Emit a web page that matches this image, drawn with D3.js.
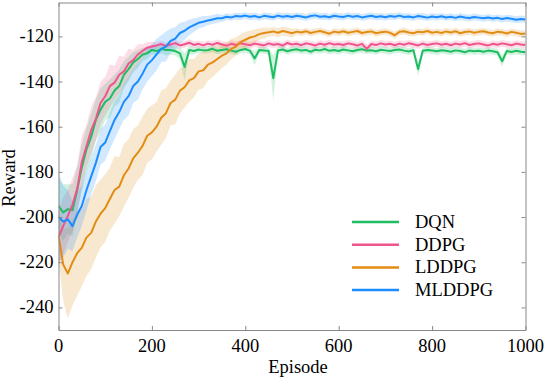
<!DOCTYPE html>
<html>
<head>
<meta charset="utf-8">
<script src="https://cdn.jsdelivr.net/npm/d3@7"></script>
</head>
<body style="margin:0">
<script>
// episodes sampled every 10
const episodes = d3.range(0, 1001, 10);
const seriesNames = ["DQN", "DDPG", "LDDPG", "MLDDPG"];
const yTicks = [-240, -220, -200, -180, -160, -140, -120];
const xTicks = [0, 200, 400, 600, 800, 1000];

const dqnMean = [
  -195, -198, -196.5, -197, -188, -178, -170, -164.5, -157, -152.5, -149,
  -147.5, -144, -142, -137, -134.5, -131.5, -130, -128, -127.5, -126,
  -126.5, -125.5, -126, -126, -126.5, -127.5, -133.5, -126, -126.5, -125.8,
  -126.2, -126, -125.5, -126.4, -126, -125.7, -126.3, -126.8, -126, -125.6,
  -126.4, -129.8, -126, -126.2, -126.5, -138.5, -126.2, -125.8, -126.6, -126,
  -125.7, -126.3, -126, -126.8, -125.9, -126.2, -125.6, -126.4, -126, -126.5,
  -125.8, -126.2, -126.6, -126, -125.7, -126.3, -126.1, -126.6, -125.9, -126.2,
  -126.5, -126, -125.8, -126.3, -126.7, -126.1, -134.5, -126.4, -126, -126.3,
  -126.6, -126.1, -126.4, -126.8, -126.2, -126.5, -127, -126.3, -126.6, -126.4,
  -126.8, -126.3, -126.6, -127, -131, -126.5, -126.9, -126.4, -126.8, -127
];
const dqnSpread = [
  12, 12.5, 11, 11.5, 10, 10.5, 9.5, 10, 9, 9.5, 8,
  8.5, 7, 7.5, 6, 5.5, 4.5, 4, 3, 2.5, 2,
  2, 2, 2.5, 2, 2, 2.5, 6, 2, 1.5, 1.5,
  1.5, 1.5, 1.5, 1.5, 1.5, 1.5, 1.5, 1.5, 1.5, 1.5,
  1.5, 3, 1.5, 1.5, 1.5, 10, 1.5, 1.5, 1.5, 1.5,
  1.5, 1.5, 1.5, 1.5, 1.5, 1.5, 1.5, 1.5, 1.5, 1.5,
  1.5, 1.5, 1.5, 1.5, 1.5, 1.5, 1.5, 1.5, 1.5, 1.5,
  1.5, 1.5, 1.5, 1.5, 1.5, 1.5, 3, 1.5, 1.5, 1.5,
  1.5, 1.5, 1.5, 1.5, 1.5, 1.5, 1.5, 1.5, 1.5, 1.5,
  1.5, 1.5, 1.5, 1.5, 2.5, 1.5, 1.5, 1.5, 1.5, 1.5
];

const ddpgMean = [
  -209, -204, -199.5, -194.5, -187.5, -175.5, -168.5, -161.5, -156.5, -149.5, -146.5,
  -142, -140.5, -137, -135.5, -132, -130.5, -128, -126.5, -125, -124.5,
  -124, -123.4, -124.2, -123.6, -123, -124, -123.5, -122.8, -123.8, -123.3,
  -124, -123.2, -123.7, -122.9, -123.6, -124.1, -123.3, -123.8, -123, -123.5,
  -123.9, -123.2, -123.6, -124, -123.1, -123.7, -123.4, -124.1, -122.9, -123.6,
  -123.3, -123.9, -123.1, -123.5, -124, -123.2, -123.7, -123, -123.6, -123.4,
  -123.8, -123.1, -123.5, -124, -123.3, -125.5, -123.4, -123.8, -123.1, -123.6,
  -123.3, -123.9, -123.2, -123.7, -123, -123.5, -124, -123.2, -123.8, -123.4,
  -123.1, -123.7, -123.3, -123.9, -123.2, -123.6, -123, -123.8, -123.4, -123.1,
  -123.6, -124, -123.3, -123.7, -123.1, -123.5, -123.9, -123.2, -123.6, -123.8
];
const ddpgSpread = [
  12, 12.5, 11.5, 12, 10.5, 11.5, 9.5, 10.5, 9.5, 9.5, 8.5,
  9.5, 7.5, 8.5, 6.5, 6.5, 4.5, 4.5, 3, 2.5, 2,
  1.5, 1.5, 1.5, 1.5, 1.5, 1.5, 1.5, 1.5, 1.5, 1.5,
  1.5, 1.5, 1.5, 1.5, 1.5, 1.5, 1.5, 1.5, 1.5, 1.5,
  1.5, 1.5, 1.5, 1.5, 1.5, 1.5, 1.5, 1.5, 1.5, 1.5,
  1.5, 1.5, 1.5, 1.5, 1.5, 1.5, 1.5, 1.5, 1.5, 1.5,
  1.5, 1.5, 1.5, 1.5, 1.5, 2, 1.5, 1.5, 1.5, 1.5,
  1.5, 1.5, 1.5, 1.5, 1.5, 1.5, 1.5, 1.5, 1.5, 1.5,
  1.5, 1.5, 1.5, 1.5, 1.5, 1.5, 1.5, 1.5, 1.5, 1.5,
  1.5, 1.5, 1.5, 1.5, 1.5, 1.5, 1.5, 1.5, 1.5, 1.5
];

const lddpgMean = [
  -208, -221, -225, -220, -216, -213.5, -209, -207, -202, -198.5, -196,
  -192, -188, -186.5, -181.5, -178.5, -174, -171.5, -168.5, -164, -162.5,
  -160, -156, -154, -149.5, -148, -144, -142.5, -139.5, -138.5, -135.5,
  -135, -132.5, -131.5, -130, -128.5, -127.5, -125.5, -124.5, -122.5, -121.5,
  -120.5, -120, -119, -118.5, -118.2, -117.8, -118.4, -117.6, -118.1, -118.6,
  -117.9, -118.3, -117.7, -118.5, -118, -117.6, -118.2, -118.8, -117.9, -118.3,
  -117.7, -118.4, -118, -117.6, -118.5, -118.1, -117.8, -118.6, -118.2, -117.9,
  -118.4, -119.5, -118, -117.7, -118.3, -118.6, -117.9, -118.2, -117.6, -118.4,
  -118, -118.5, -117.8, -118.3, -117.7, -118.6, -118.1, -117.8, -118.4, -118,
  -117.7, -118.3, -118.6, -117.9, -118.2, -118.7, -118, -118.4, -118.9, -118.7
];
const lddpgSpread = [
  10, 16, 20, 19, 19, 17, 17, 16, 16, 15, 15,
  14, 15, 13, 14, 13, 13, 12, 13, 12, 12,
  11, 12, 11, 10, 11, 10, 9, 9.5, 8.5, 8,
  8, 7, 6.5, 6, 5.5, 5, 4.5, 4, 3.5, 3.5,
  3, 3, 2.5, 2.5, 2, 2, 2, 2, 2, 2,
  1.5, 1.5, 1.5, 1.5, 1.5, 1.5, 1.5, 1.5, 1.5, 1.5,
  1.5, 1.5, 1.5, 1.5, 1.5, 1.5, 1.5, 1.5, 1.5, 1.5,
  1.5, 1.5, 1.5, 1.5, 1.5, 1.5, 1.5, 1.5, 1.5, 1.5,
  1.5, 1.5, 1.5, 1.5, 1.5, 1.5, 1.5, 1.5, 1.5, 1.5,
  1.5, 1.5, 1.5, 1.5, 1.5, 1.5, 1.5, 1.5, 1.5, 1.5
];

const mlddpgMean = [
  -200, -202, -201, -204, -199, -195, -188, -182, -176, -169, -167,
  -162, -157, -153.5, -149, -146.5, -142, -140, -136.5, -132.5, -130.5,
  -128, -125.5, -124.5, -122, -121, -118.5, -117.5, -116, -115, -114,
  -113.5, -113, -112.5, -112, -112, -111.3, -111.6, -111, -111.2, -110.8,
  -111.3, -111, -111.6, -110.9, -111.2, -111.5, -110.8, -111.3, -111, -111.4,
  -110.9, -111.2, -111.6, -111, -110.7, -111.3, -111.1, -111.5, -110.9, -111.2,
  -111.4, -110.8, -111.3, -111, -111.6, -111.2, -110.9, -111.4, -111.1, -111.5,
  -111, -111.3, -110.8, -111.4, -111.2, -111.6, -111, -111.3, -111.7, -111.2,
  -111.5, -111.1, -111.6, -111.3, -111.8, -111.2, -111.6, -111.9, -111.4, -111.7,
  -112, -111.6, -112.1, -111.8, -112.3, -111.9, -112.2, -112.6, -112.3, -112.5
];
const mlddpgSpread = [
  20, 16, 13, 11, 10, 9, 9, 8, 8, 8, 8,
  8, 8.5, 7.5, 8, 8.5, 7.5, 8, 7, 7.5, 7,
  7, 6, 6.5, 5.5, 5, 4.5, 4, 3.5, 3, 2.5,
  2.5, 2, 2, 2, 1.5, 1.5, 1.5, 1.5, 1.5, 1.5,
  1.5, 1.5, 1.5, 1.5, 1.5, 1.5, 1.5, 1.5, 1.5, 1.5,
  1.5, 1.5, 1.5, 1.5, 1.5, 1.5, 1.5, 1.5, 1.5, 1.5,
  1.5, 1.5, 1.5, 1.5, 1.5, 1.5, 1.5, 1.5, 1.5, 1.5,
  1.5, 1.5, 1.5, 1.5, 1.5, 1.5, 1.5, 1.5, 1.5, 1.5,
  1.5, 1.5, 1.5, 1.5, 1.5, 1.5, 1.5, 1.5, 1.5, 1.5,
  1.5, 1.5, 1.5, 1.5, 1.5, 1.5, 1.5, 1.5, 1.5, 1.5
];

const colors = ["#1fbd62", "#f0548c", "#e38c14", "#1a8cff"];

const series = [
  { name: seriesNames[0], mean: dqnMean, spread: dqnSpread, color: colors[0] },
  { name: seriesNames[1], mean: ddpgMean, spread: ddpgSpread, color: colors[1] },
  { name: seriesNames[2], mean: lddpgMean, spread: lddpgSpread, color: colors[2] },
  { name: seriesNames[3], mean: mlddpgMean, spread: mlddpgSpread, color: colors[3] }
];

const W = 547, H = 381;
const margin = { top: 2.5, right: 21.5, bottom: 51, left: 58.5 };
const width = W - margin.left - margin.right;
const height = H - margin.top - margin.bottom;
const FONT = "'Liberation Serif'";
const FS = "18.5px";

const svg = d3.select("body").append("svg")
  .attr("width", W)
  .attr("height", H);

const g = svg.append("g")
  .attr("transform", "translate(" + margin.left + "," + margin.top + ")");

const x = d3.scaleLinear().domain([0, 1000]).range([0, width]);
const y = d3.scaleLinear().domain([-250, -105]).range([height, 0]);

g.append("clipPath").attr("id", "plotclip")
  .append("rect").attr("width", width).attr("height", height);

const plot = g.append("g").attr("clip-path", "url(#plotclip)");

series.forEach(s => {
  const pts = episodes.map((e, i) => ({ e: e, m: s.mean[i], s: s.spread[i] }));
  plot.append("path")
    .datum(pts)
    .attr("fill", s.color)
    .attr("fill-opacity", 0.2)
    .attr("d", d3.area()
      .x(d => x(d.e))
      .y0(d => y(d.m - d.s))
      .y1(d => y(d.m + d.s)));
});

series.forEach(s => {
  const pts = episodes.map((e, i) => ({ e: e, m: s.mean[i] }));
  plot.append("path")
    .datum(pts)
    .attr("fill", "none")
    .attr("stroke", s.color)
    .attr("stroke-width", 2)
    .attr("stroke-linejoin", "round")
    .attr("d", d3.line().x(d => x(d.e)).y(d => y(d.m)));
});

// axes, ticks pointing inward on all sides; labels drawn as plain texts
function frameAxis(sel) {
  sel.attr("font-family", null).attr("font-size", null);
  sel.selectAll(".domain").attr("stroke", "#888");
  sel.selectAll(".tick line").attr("stroke", "#888");
}

g.append("g")
  .attr("transform", "translate(0," + height + ")")
  .call(d3.axisBottom(x).tickValues(xTicks).tickFormat("")
    .tickSizeInner(-4).tickSizeOuter(0))
  .call(frameAxis);

g.append("g")
  .call(d3.axisTop(x).tickValues(xTicks).tickFormat("")
    .tickSizeInner(-4).tickSizeOuter(0))
  .call(frameAxis);

g.append("g")
  .call(d3.axisLeft(y).tickValues(yTicks).tickFormat("")
    .tickSizeInner(-4).tickSizeOuter(0))
  .call(frameAxis);

g.append("g")
  .attr("transform", "translate(" + width + ",0)")
  .call(d3.axisRight(y).tickValues(yTicks).tickFormat("")
    .tickSizeInner(-4).tickSizeOuter(0))
  .call(frameAxis);

g.selectAll(".tick text").remove();

xTicks.forEach(t => {
  g.append("text")
    .attr("x", x(t))
    .attr("y", height + 22)
    .attr("text-anchor", "middle")
    .style("font-family", FONT)
    .style("font-size", FS)
    .text(String(t));
});

yTicks.forEach(t => {
  g.append("text")
    .attr("x", -5)
    .attr("y", y(t) + 6)
    .attr("text-anchor", "end")
    .style("font-family", FONT)
    .style("font-size", FS)
    .text(String(t));
});

// axis titles
svg.append("text")
  .attr("x", 298)
  .attr("y", 373)
  .attr("text-anchor", "middle")
  .style("font-family", FONT)
  .style("font-size", FS)
  .text("Episode");

svg.append("text")
  .attr("transform", "translate(15,178) rotate(-90)")
  .attr("text-anchor", "middle")
  .style("font-family", FONT)
  .style("font-size", FS)
  .text("Reward");

// legend
const legend = svg.append("g").attr("transform", "translate(352,222)");
series.forEach((s, i) => {
  const row = legend.append("g").attr("transform", "translate(0," + (i * 22.7) + ")");
  row.append("line")
    .attr("x1", 0).attr("x2", 47)
    .attr("stroke", s.color)
    .attr("stroke-width", 2.5);
  row.append("text")
    .attr("x", 63)
    .attr("y", 6)
    .style("font-family", FONT)
    .style("font-size", FS)
    .text(s.name);
});
</script>
</body>
</html>
